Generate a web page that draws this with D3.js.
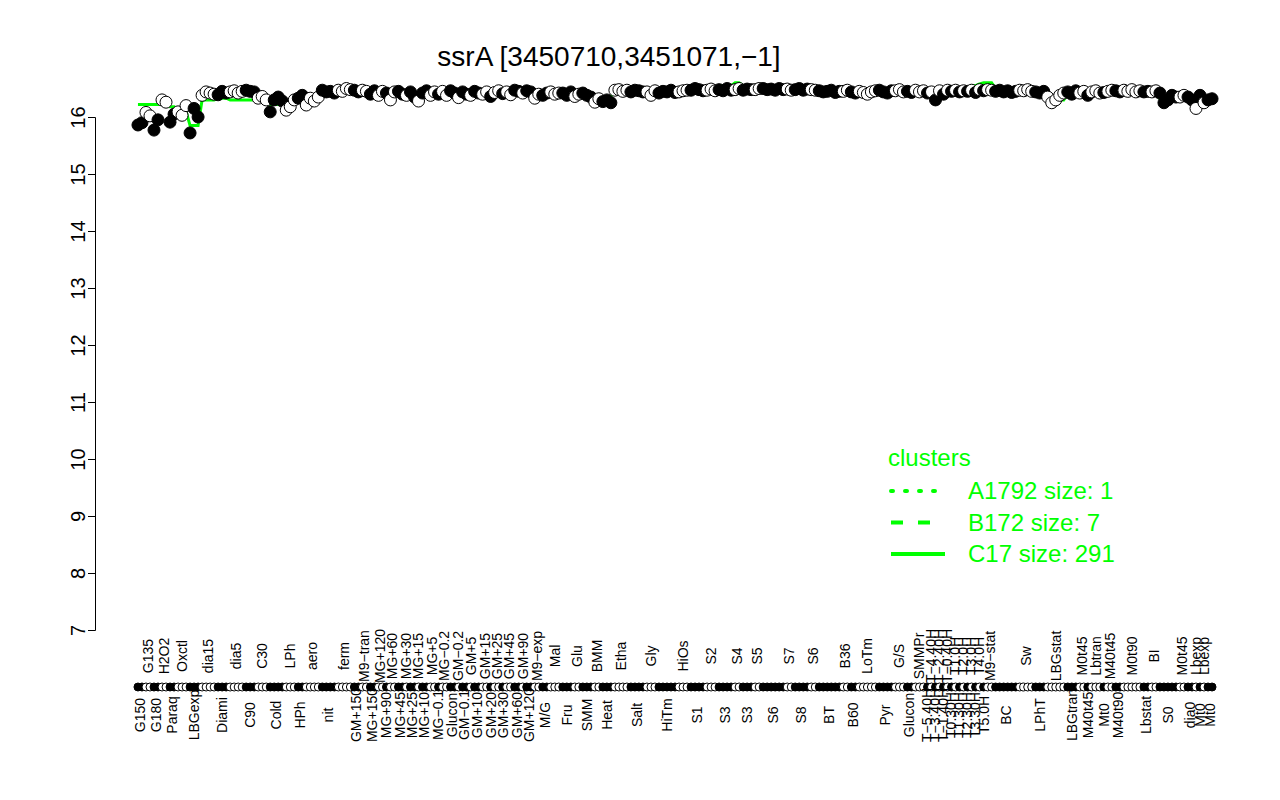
<!DOCTYPE html>
<html><head><meta charset="utf-8">
<script src="https://cdn.jsdelivr.net/npm/d3@7"></script>
<style>
body{margin:0;background:#fff}
svg{display:block}
text{font-family:"Liberation Sans", Arial, Helvetica, sans-serif}
</style>
</head><body>
<svg id="chart" width="1280" height="800"></svg>
<script>
// ---------- data ----------
const conditions = ["G150","G135","G180","H2O2","Paraq","Oxctl","LBGexp","dia15","Diami","dia5","C90","C30","Cold","LPh","HPh","aero","nit","ferm","GM+150","M9−tran","MG+150","MG+120","MG+90","MG+60",
"MG+45","MG+30","MG+25","MG+15","MG+10","MG+5","MG−0.1","MG−0.2","Glucon","GM−0.2","GM−0.1","GM+5","GM+10","GM+15","GM+20","GM+25","GM+30","GM+45","GM+60","GM+90","GM+120",
"M9−exp","M/G","Mal","Fru","Glu","SMM","BMM","Heat","Etha","Salt","Gly","HiTm","HiOs","S1","S2","S3","S4","S3","S5","S6","S7","S8","S6","BT","B36","B60","LoTm","Pyr","G/S","Glucon","SMMPr",
"T−5.40H","T−4.40H","T−3.40H","T−2.40H","T−1.40H","T−0.40H","T0.30H","T1.0H","T1.30H","T2.0H","T2.30H","T3.0H","T3.30H","T4.0H","T5.0H",
"M9−stat","BC","Sw","LPhT","LBGstat","LBGtran","M0t45","M40t45","Lbtran","Mt0","M40t45","M40t90","M0t90","Lbstat","BI","S0","M0t45","dia0","Lbexp","Mt0","Lbexp","Mt0"];

const sampleValues = [
[15.86,15.9],[16.08,16.02],[15.77,15.95],[16.3,16.26],[15.91,16.05],[16.09,16.03,16.2],[15.72,16.15,16.0],[16.38,16.44,16.42,16.4],[16.39,16.45,16.42],[16.44,16.46,16.42,16.45],
[16.47,16.45,16.44],[16.33,16.36,16.3],[16.09,16.3,16.35,16.28],[16.12,16.18,16.3],[16.33,16.38],[16.21,16.33,16.28,16.35],[16.47,16.44,16.45,16.42],[16.47,16.45,16.5,16.48],
[16.47,16.44],[16.47,16.45],[16.4,16.46],[16.38,16.45],[16.42],[16.3,16.44],
[16.45,16.4],[16.38],[16.44,16.35],[16.28],[16.42,16.46],[16.38,16.44],[16.4],[16.45,16.38],[16.46,16.42],[16.34],[16.44,16.4],[16.38],[16.45,16.42],[16.4,16.44],[16.36],[16.43,16.46],[16.41],[16.44,16.39],[16.47,16.45],[16.42],[16.46,16.44],
[16.33,16.4],[16.38,16.42],[16.44,16.4,16.42],[16.42,16.38,16.44],[16.36,16.4],[16.42,16.38,16.35],[16.26,16.32],[16.27,16.3,16.25],[16.47,16.48,16.45,16.47],[16.44,16.47,16.46,16.44],[16.44,16.38,16.46],
[16.42,16.45,16.44,16.47,16.43],[16.44,16.46,16.47],[16.47,16.5,16.48,16.46],[16.47,16.49,16.46],[16.48,16.46,16.5,16.47],[16.48,16.5],[16.47,16.49,16.48],[16.48,16.5],[16.5,16.48,16.49,16.47,16.5,16.48],[16.49,16.47],[16.48,16.5,16.47,16.49],[16.48,16.47],
[16.46,16.44,16.45,16.47,16.43,16.45],[16.45,16.47],[16.44,16.42],[16.45,16.43,16.4,16.44,16.46],[16.47,16.44,16.42,16.46],[16.46,16.48,16.44],[16.45,16.43],[16.47,16.44,16.46],
[16.42],[16.44],[16.3],[16.46],[16.4],[16.47],[16.45],[16.47],[16.44],[16.46],[16.45],[16.47],[16.43],[16.48],[16.46],
[16.48,16.47],[16.45,16.47,16.44,16.46,16.43,16.45],[16.47,16.46,16.48,16.45],[16.44,16.42,16.45],[16.35,16.25,16.3,16.38,16.42],[16.44,16.4,16.46],[16.42,16.45],[16.38],[16.44,16.46,16.42],[16.43],[16.45,16.47],[16.46,16.44],
[16.47,16.45,16.48,16.44,16.46],[16.44,16.45],[16.44,16.46],[16.42,16.25,16.3,16.38,16.35],[16.35,16.38],[16.35,16.3],[16.15],[16.38],[16.25],[16.3,16.32]
];

const clusterC17 = [16.22,16.22,16.22,16.22,16.18,16.1,15.85,16.3,16.33,16.3,16.3,16.28,16.22,16.2,16.3,16.35,16.42,16.44,16.44,16.44,16.44,16.43,16.42,16.42,
16.43,16.42,16.42,16.4,16.43,16.42,16.42,16.42,16.43,16.42,16.42,16.42,16.43,16.43,16.42,16.43,16.42,16.42,16.44,16.43,16.43,
16.4,16.42,16.43,16.42,16.4,16.4,16.36,16.36,16.47,16.47,16.45,16.46,16.48,16.52,16.52,16.55,16.6,16.55,16.52,16.52,16.52,16.52,16.5,16.47,16.47,16.45,16.45,16.47,16.5,16.48,16.48,
16.48,16.5,16.45,16.5,16.48,16.5,16.5,16.52,16.5,16.52,16.52,16.55,16.55,16.58,16.6,
16.6,16.5,16.48,16.45,16.3,16.42,16.43,16.42,16.44,16.44,16.46,16.46,16.48,16.46,16.46,16.32,16.35,16.33,16.3,16.3,16.3,16.3];

const yTicks = [7,8,9,10,11,12,13,14,15,16];
const titleText = "ssrA [3450710,3451071,−1]";
const legendTitle = "clusters";
const legendLabels = ["A1792 size: 1","B172 size: 7","C17 size: 291"];
const legendDash = ["2,12","12,15",null];

// ---------- build samples ----------
const samples = [];
sampleValues.forEach((vals, gi) => vals.forEach(v => samples.push({gi, v, idx: samples.length})));
const N = samples.length;

const svg = d3.select("#chart");
svg.append("rect").attr("width",1280).attr("height",800).attr("fill","#fff");

const plotLeft = 95, plotRight = 1255;
const pad = 0.04 * (N - 1);
const x = d3.scaleLinear().domain([-pad, N - 1 + pad]).range([plotLeft, plotRight]);
const y = d3.scaleLinear().domain([7, 16]).range([630, 117]);
const green = "#00ff00";

// title
svg.append("text").attr("x", 609).attr("y", 66).attr("text-anchor","middle")
  .attr("font-size", 28).attr("fill","#000").text(titleText);

// y axis
const ax = svg.append("g").attr("transform",`translate(${plotLeft},0)`)
  .call(d3.axisLeft(y).tickValues(yTicks).tickSize(7).tickFormat(d3.format("d")));
ax.select(".domain").attr("stroke","#000").attr("stroke-width",1);
ax.selectAll(".tick line").attr("stroke","#000");
ax.selectAll(".tick text").attr("x",0).attr("dy",0)
  .attr("transform","translate(-10,0) rotate(-90)")
  .attr("text-anchor","middle").attr("font-size",20).attr("fill","#000")
  .style("font-family",'"Liberation Sans", Arial, sans-serif');

// cluster line (behind points)
const line = d3.line().x(d => x(d.idx)).y(d => y(clusterC17[d.gi]));
svg.append("path").datum(samples).attr("d", line)
  .attr("fill","none").attr("stroke",green).attr("stroke-width",3);

// points
svg.append("g").selectAll("circle").data(samples).join("circle")
  .attr("cx", d => x(d.idx)).attr("cy", d => y(d.v)).attr("r", 6)
  .attr("fill", d => d.gi % 2 === 0 ? "#000" : "#fff")
  .attr("stroke","#000").attr("stroke-width",1);

// dot row
svg.append("g").selectAll("circle").data(samples).join("circle")
  .attr("cx", d => x(d.idx)).attr("cy", 687).attr("r", 4)
  .attr("fill", d => d.gi % 2 === 0 ? "#000" : "#fff")
  .attr("stroke","#000").attr("stroke-width",1);

// condition labels
const groupCenters = conditions.map((c, gi) => {
  const s = samples.filter(d => d.gi === gi);
  return {c, gi, cx: d3.mean(s, d => x(d.idx))};
});
svg.append("g").selectAll("text").data(groupCenters).join("text")
  .attr("transform", d => `translate(${d.cx},${d.gi % 2 === 0 ? 715 : 656}) rotate(-90)`)
  .attr("dy","0.35em").attr("text-anchor","middle").attr("font-size",14).attr("fill","#000")
  .text(d => d.c);

// legend
const lg = svg.append("g");
lg.append("text").attr("x",888).attr("y",466).attr("font-size",24).attr("fill",green).text(legendTitle);
legendLabels.forEach((lab, i) => {
  const ly = 491 + i * 31.5;
  lg.append("line").attr("x1",891).attr("x2",945).attr("y1",ly).attr("y2",ly)
    .attr("stroke",green).attr("stroke-width",4)
    .attr("stroke-linecap", i === 0 ? "round" : "butt")
    .attr("stroke-dasharray", legendDash[i]);
  lg.append("text").attr("x",968).attr("y",ly).attr("dy","0.35em").attr("font-size",24)
    .attr("fill",green).text(lab);
});
</script>
</body></html>
